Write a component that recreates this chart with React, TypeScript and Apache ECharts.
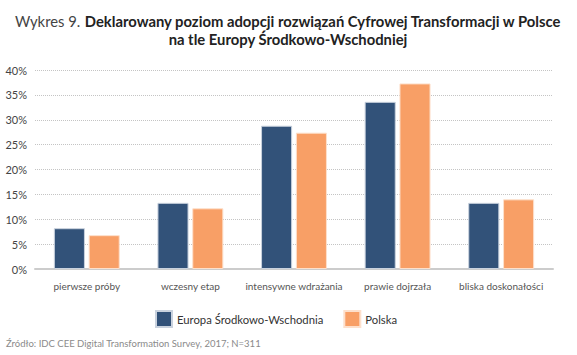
import React, { useEffect, useRef } from "react";
import * as echarts from "echarts";

const categories = ["pierwsze próby", "wczesny etap", "intensywne wdrażania", "prawie dojrzała", "bliska doskonałości"];
const cee = [8.2, 13.3, 28.8, 33.6, 13.3];
const polska = [6.8, 12.2, 27.4, 37.3, 14.0];
const seriesNames = ["Europa Środkowo-Wschodnia", "Polska"];
const FONT = "Lato, 'Open Sans', sans-serif";

export default function App() {
  const ref = useRef<HTMLDivElement>(null);
  useEffect(() => {
    if (!ref.current) return;
    const chart = echarts.init(ref.current, null, { renderer: "svg" });
    chart.setOption({
      animation: false,
      backgroundColor: "#ffffff",
      textStyle: { fontFamily: FONT },
      title: {
        left: 283,
        textAlign: "center",
        top: 7,
        text: "{a|Wykres 9. }{b|Deklarowany poziom adopcji rozwiązań Cyfrowej Transformacji w Polsce}\n{b|na tle Europy Środkowo-Wschodniej}",
        textStyle: {
          rich: {
            a: { fontFamily: FONT, fontSize: 14.8, fontWeight: "normal", color: "#444", lineHeight: 18 },
            b: { fontFamily: FONT, fontSize: 14.8, fontWeight: "bold", color: "#222", lineHeight: 18 },
          },
        },
      },
      legend: {
        top: 305,
        left: 150,
        itemWidth: 16,
        itemHeight: 16,
        itemGap: 20,
        icon: "rect",
        textStyle: { fontFamily: FONT, fontSize: 11.3, color: "#333" },
        data: seriesNames,
      },
      graphic: [
        {
          type: "text",
          left: 6,
          top: 338,
          style: { text: "Źródło: IDC CEE Digital Transformation Survey, 2017; N=311", fontFamily: FONT, fontSize: 9.5, fill: "#8a8a8a" },
        },
      ],
      grid: { left: 35, right: 24, top: 70, bottom: 86 },
      xAxis: {
        type: "category",
        data: categories,
        axisLine: { lineStyle: { color: "#cccccc", width: 2 } },
        axisTick: { show: false },
        axisLabel: { interval: 0, fontFamily: FONT, fontSize: 10, color: "#555", margin: 12 },
      },
      yAxis: {
        type: "value",
        min: 0,
        max: 40,
        interval: 5,
        axisLabel: { formatter: "{value}%", fontFamily: FONT, fontSize: 11, color: "#444", margin: 8 },
        splitLine: { lineStyle: { type: "dotted", color: "#c4c4c4", width: 1 } },
        axisLine: { show: false },
        axisTick: { show: false },
      },
      series: [
        {
          name: seriesNames[0],
          type: "bar",
          data: cee,
          barWidth: "30%",
          barGap: "12%",
          itemStyle: { color: "#325279", borderColor: "#c9d2de", borderWidth: 1 },
        },
        {
          name: seriesNames[1],
          type: "bar",
          data: polska,
          barWidth: "30%",
          itemStyle: { color: "#f89f66", borderColor: "#fde0cc", borderWidth: 1 },
        },
      ],
    });
    return () => chart.dispose();
  }, []);
  return <div ref={ref} style={{ position: "absolute", left: 0, top: 0, width: 577, height: 355 }} />;
}
